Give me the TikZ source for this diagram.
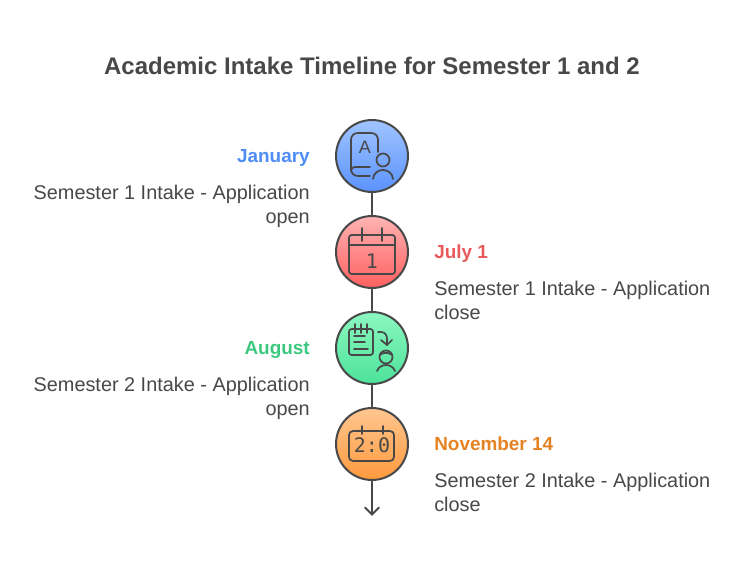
\documentclass[tikz,border=0pt]{standalone}
\usepackage{fontspec}
\setmainfont{Liberation Sans}
\newfontfamily\iconfont{DejaVu Sans Mono}
\usetikzlibrary{positioning}
\definecolor{inkgray}{HTML}{484848}
\definecolor{janblue}{HTML}{4F8DF5}
\definecolor{julred}{HTML}{E85A5A}
\definecolor{auggreen}{HTML}{3CC97F}
\definecolor{novorange}{HTML}{E58324}
\definecolor{jantop}{HTML}{A0C4FF}
\definecolor{janbot}{HTML}{5A93FF}
\definecolor{jultop}{HTML}{FFB3B3}
\definecolor{julbot}{HTML}{FF6060}
\definecolor{augtop}{HTML}{8BF7C0}
\definecolor{augbot}{HTML}{4DE39A}
\definecolor{novtop}{HTML}{FFC68F}
\definecolor{novbot}{HTML}{FF9A3D}
\tikzset{
  stepcircle/.style={circle,draw=inkgray,line width=1.5pt,minimum size=54pt,inner sep=0pt},
  iconline/.style={draw=inkgray,line width=1.3pt,line cap=round,line join=round},
  icontext/.style={text=inkgray,inner sep=0pt,font=\iconfont\fontsize{15}{15}\selectfont},
  heading/.style={font=\bfseries\fontsize{14.2}{18}\selectfont,inner sep=0pt,text height=11pt,text depth=3pt},
  bodytext/.style={text=inkgray,font=\fontsize{14.9}{18}\selectfont,inner sep=0pt,below=13.6pt of #1},
}
\begin{document}
\begin{tikzpicture}[x=0.75pt,y=-0.75pt]
\useasboundingbox (0,0) rectangle (744,564);

\node[font=\bfseries\fontsize{18}{22}\selectfont,text=inkgray,inner sep=0pt,anchor=base] (title) at (372,74.6) {Academic Intake Timeline for Semester 1 and 2};

% circles
\node[stepcircle,top color=jantop,bottom color=janbot] (jan) at (372,156) {};
\node[stepcircle,top color=jultop,bottom color=julbot] (jul) at (372,252) {};
\node[stepcircle,top color=augtop,bottom color=augbot] (aug) at (372,348) {};
\node[stepcircle,top color=novtop,bottom color=novbot] (nov) at (372,444) {};
\coordinate (arrowend) at (372,514.5);

\draw[inkgray,line width=1.5pt] (jan) -- (jul);
\draw[inkgray,line width=1.5pt] (jul) -- (aug);
\draw[inkgray,line width=1.5pt] (aug) -- (nov);
\draw[inkgray,line width=1.5pt] (nov) -- (arrowend);
\draw[inkgray,line width=1.5pt,line cap=round] (365,507.5) -- (arrowend) -- (379,507.5);

% labels
\node[heading,text=janblue,anchor=base east] (janhead) at (310,162) {January};
\node[bodytext=janhead.south east,anchor=north east,align=right] (janbody) {Semester 1 Intake - Application\\open};
\node[heading,text=julred,anchor=base west] (julhead) at (434,258) {July 1};
\node[bodytext=julhead.south west,anchor=north west,align=left] (julbody) {Semester 1 Intake - Application\\close};
\node[heading,text=auggreen,anchor=base east] (aughead) at (310,354) {August};
\node[bodytext=aughead.south east,anchor=north east,align=right] (augbody) {Semester 2 Intake - Application\\open};
\node[heading,text=novorange,anchor=base west] (novhead) at (434,450) {November 14};
\node[bodytext=novhead.south west,anchor=north west,align=left] (novbody) {Semester 2 Intake - Application\\close};

% book and person
\begin{scope}[shift={(jan)}]
\draw[iconline,rounded corners=5pt] (-2,20) -- (-21,20) -- (-21,-23) -- (6,-23) -- (6,-4);
\draw[iconline] (-2,11) -- (-17,11) .. controls (-19,11) and (-21,12) .. (-21,15);
\node[icontext,font=\fontsize{13.5}{14}\selectfont] (letter) at (-7,-9) {A};
\draw[iconline] (11,4) circle[radius=6.5];
\draw[iconline] (1,23) .. controls (2,11) and (20,11) .. (21,23);
\end{scope}

% calendar
\begin{scope}[shift={(jul)}]
\draw[iconline,rounded corners=2pt] (-23,-17) rectangle (23,22);
\draw[iconline] (-23,-7) -- (23,-7);
\draw[iconline] (-10,-24) -- (-10,-11);
\draw[iconline] (10,-24) -- (10,-11);
\node[icontext] (daynum) at (0,9) {1};
\end{scope}

% notepad, arrow and person
\begin{scope}[shift={(aug)}]
\draw[iconline,rounded corners=2pt] (-23,-19) rectangle (1,7);
\draw[iconline] (-17,-24) -- (-17,-15);
\draw[iconline] (-11,-24) -- (-11,-15);
\draw[iconline] (-5,-24) -- (-5,-15);
\draw[iconline] (-18,-12) -- (-7,-12);
\draw[iconline] (-18,-6) -- (-7,-6);
\draw[iconline] (-18,1) -- (-4,1);
\draw[iconline] (6,-16) -- (9,-16) .. controls (13,-16) and (15,-13) .. (15,-9) -- (15,-3);
\draw[iconline] (9,-8) -- (15,-3) -- (20,-8);
\draw[iconline] (14,9) circle[radius=6.5];
\draw[iconline] (8,7) .. controls (11,4) and (17,4) .. (20,7);
\draw[iconline] (5,23) .. controls (8,15) and (20,15) .. (23,23);
\end{scope}

% clock calendar
\begin{scope}[shift={(nov)}]
\draw[iconline,rounded corners=3pt] (-23,-13) rectangle (22,17);
\draw[iconline] (-10,-18) -- (-10,-10);
\draw[iconline] (11,-18) -- (11,-10);
\node[icontext] (clock) at (0,1.5) {2:0};
\end{scope}
\end{tikzpicture}
\end{document}
